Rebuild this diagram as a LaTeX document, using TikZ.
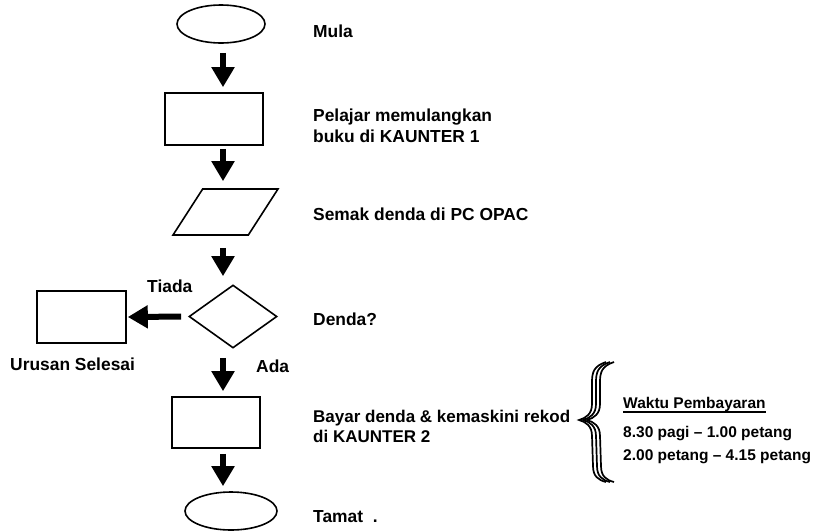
\documentclass[tikz,border=0pt]{standalone}
\usepackage{fontspec}
\setmainfont{Liberation Sans}
\usetikzlibrary{arrows.meta,shapes.geometric}

\tikzset{
  shp/.style={draw, line width=1.6pt, inner sep=0pt},
  box/.style={shp, rectangle},
  terminal/.style={shp, ellipse},
  flow/.style={line width=6pt, -{Triangle[width=22pt,length=20pt]}, shorten <=9pt, shorten >=5pt},
  txt/.style={font=\bfseries\fontsize{17.4pt}{21pt}\selectfont, anchor=base west, inner sep=0pt, align=left},
  small/.style={font=\bfseries\fontsize{15.5pt}{18pt}\selectfont, anchor=base west, inner sep=0pt}
}

\begin{document}
\begin{tikzpicture}[x=1pt,y=-1pt]
  \useasboundingbox (0,0) rectangle (816,531);
  \coordinate (axis) at (223,0);

  % flow boxes
  \node[terminal, minimum width=88pt, minimum height=38pt] (mula) at (221,24) {};
  \node[box, minimum width=98pt, minimum height=52pt] (pulang) at (214,119) {};
  \node[shp, trapezium, inner sep=2pt, trapezium left angle=57, trapezium right angle=123,
        trapezium stretches=true, minimum width=105pt, minimum height=46pt] (semak) at (225.5,212) {};
  \node[shp, diamond, aspect=1.4, minimum width=88pt, minimum height=63pt] (denda) at (233,316.5) {};
  \node[box, minimum width=89pt, minimum height=52pt] (selesai) at (81.5,317) {};
  \node[box, minimum width=88pt, minimum height=51pt] (bayar) at (216,422.5) {};
  \node[terminal, minimum width=92pt, minimum height=38pt] (tamat) at (231,511) {};

  % arrows
  \draw[flow] (mula.south -| axis) -- (pulang.north -| axis);
  \draw[flow, shorten <=3pt, shorten >=7pt] (pulang.south -| axis) -- (semak.north -| axis);
  \draw[flow, shorten <=12pt, shorten >=8pt] (semak.south -| axis) -- (denda.north -| axis);
  \draw[flow] (denda.south -| axis) -- (bayar.north -| axis);
  \draw[flow, shorten <=5pt] (bayar.south -| axis) -- (tamat.north -| axis);
  \draw[flow, shorten <=7pt, shorten >=1pt] (denda.west) -- (selesai.east);

  % texts
  \node[txt] (tMula) at (313,37) {Mula};
  \node[txt] (tPulang) at (313,142) {Pelajar memulangkan\\buku di KAUNTER 1};
  \node[txt] (tSemak) at (313,220) {Semak denda di PC OPAC};
  \node[txt] (tDenda) at (313,325) {Denda?};
  \node[txt, font=\bfseries\fontsize{17pt}{20pt}\selectfont] (tBayar) at (313,442) {Bayar denda \& kemaskini rekod\\di KAUNTER 2};
  \node[txt] (tTamat) at (313,522) {Tamat\ \ .};
  \node[txt] (tiada) at (147,292) {Tiada};
  \node[txt] (ada) at (256,372) {Ada};
  \node[txt] (tSelesai) at (10,370) {Urusan Selesai};

  % brace
  \foreach \s in {0,4,8}
    \draw[line width=1.7pt, xshift=\s pt] (606,362) .. controls (594,366) and (592,372) .. (592,382)
      -- (592,404) .. controls (592,414) and (586,418) .. (579,420)
      .. controls (586,422) and (592,426) .. (592,436)
      -- (593,466) .. controls (593,476) and (598,480) .. (606,482);

  % waktu
  \node[small] (waktu) at (623,408) {Waktu Pembayaran};
  \draw[line width=1.2pt] ([yshift=-4pt]waktu.base west) -- ([yshift=-4pt]waktu.base east);
  \node[small] (pagi) at (623,437) {8.30 pagi -- 1.00 petang};
  \node[small] (petang) at (623,460) {2.00 petang -- 4.15 petang};
\end{tikzpicture}
\end{document}
